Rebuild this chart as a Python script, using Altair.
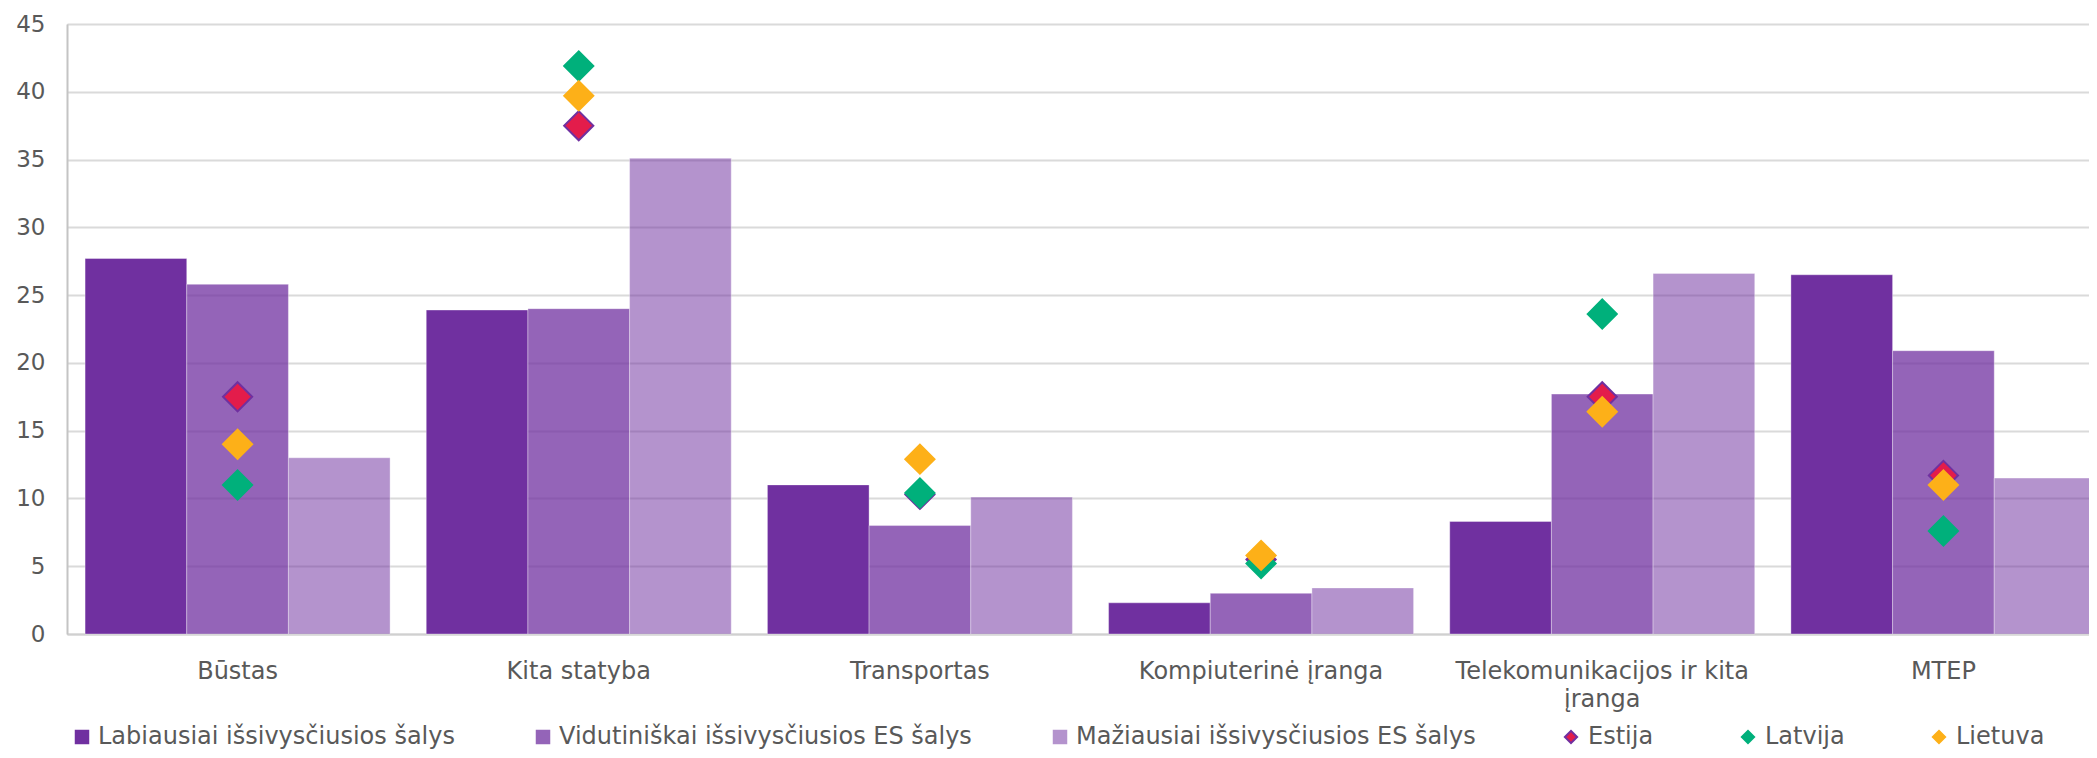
import altair as alt
import pandas as pd

# ---------------- data ----------------
categories = [
    "Būstas",
    "Kita statyba",
    "Transportas",
    "Kompiuterinė įranga",
    "Telekomunikacijos ir kita įranga",
    "MTEP",
]
bar_series = [
    "Labiausiai išsivysčiusios šalys",
    "Vidutiniškai išsivysčiusios ES šalys",
    "Mažiausiai išsivysčiusios ES šalys",
]
most_developed = [27.7, 23.9, 11.0, 2.3, 8.3, 26.5]
medium_developed = [25.8, 24.0, 8.0, 3.0, 17.7, 20.9]
least_developed = [13.0, 35.1, 10.1, 3.4, 26.6, 11.5]

country_series = ["Estija", "Latvija", "Lietuva"]
estija = [17.5, 37.5, 10.3, 5.5, 17.5, 11.7]
latvija = [11.0, 41.9, 10.4, 5.2, 23.6, 7.6]
lietuva = [14.0, 39.7, 12.9, 5.8, 16.4, 11.0]

y_ticks = [0, 5, 10, 15, 20, 25, 30, 35, 40, 45]

# ---------------- styles ----------------
bar_colors = ["#7030A0", "rgba(112,48,160,0.75)", "rgba(112,48,160,0.52)"]
country_fill = ["#E31C4B", "#00B07B", "#FDB018"]
country_stroke = ["#7030A0", "#00B07B", "#FDB018"]
text_color = "#595959"
font = "DejaVu Sans"

bars_df = pd.DataFrame({
    "category": categories * 3,
    "series": [s for s in bar_series for _ in categories],
    "value": most_developed + medium_developed + least_developed,
})
pts_df = pd.DataFrame({
    "category": categories * 3,
    "series": [s for s in country_series for _ in categories],
    "value": estija + latvija + lietuva,
})

# the band range runs a little past the visible plot edge, as in the reference
x_scale = alt.Scale(domain=categories, range=[0, 2047], paddingInner=0.106, paddingOuter=0.053)
y_scale = alt.Scale(domain=[0, 45], nice=False, zero=True)

wrap_expr = (
    "length(datum.label) > 24 ? "
    "[slice(datum.label, 0, lastindexof(datum.label, ' ')), "
    "slice(datum.label, lastindexof(datum.label, ' ') + 1)] : datum.label"
)

x_axis = alt.Axis(
    title=None, labelAngle=0, labelFontSize=24, labelColor=text_color, labelFont=font,
    labelPadding=25, ticks=False, domainColor="#D0D0D0", domainWidth=2, grid=False,
    labelLimit=500, labelLineHeight=28, labelOverlap=False, labelExpr=wrap_expr,
)
y_axis = alt.Axis(
    title=None, values=y_ticks, labelFontSize=23, labelColor=text_color, labelFont=font,
    labelPadding=22, ticks=False, domainColor="#C4C4C4", domainWidth=2,
    grid=True, gridColor="#DADADA", gridWidth=2,
)

bar_legend = alt.Legend(
    title=None, orient="none", legendX=3, legendY=701, direction="horizontal",
    columns=3, columnPadding=76, symbolType="square", symbolSize=210,
    symbolStrokeWidth=0, labelFontSize=24, labelColor=text_color, labelFont=font,
    labelOffset=4, labelLimit=700, padding=0,
)
pt_legend = alt.Legend(
    title=None, orient="none", legendX=1492, legendY=701, direction="horizontal",
    columns=3, columnPadding=82, symbolType="diamond", symbolSize=150,
    symbolStrokeWidth=2, labelFontSize=24, labelColor=text_color, labelFont=font,
    labelOffset=5, labelLimit=700, padding=0,
)

bars = alt.Chart(bars_df).mark_bar(
    stroke="white", strokeOpacity=0.35, strokeWidth=1
).encode(
    x=alt.X("category:N", sort=categories, scale=x_scale, axis=x_axis),
    xOffset=alt.XOffset("series:N", sort=bar_series,
                        scale=alt.Scale(domain=bar_series, paddingInner=0, paddingOuter=0)),
    y=alt.Y("value:Q", scale=y_scale, axis=y_axis),
    fill=alt.Fill("series:N", sort=bar_series,
                  scale=alt.Scale(domain=bar_series, range=bar_colors), legend=bar_legend),
)

points = alt.Chart(pts_df).mark_point(
    shape="diamond", filled=True, size=850, strokeWidth=2, opacity=1
).encode(
    x=alt.X("category:N", sort=categories, scale=x_scale),
    y=alt.Y("value:Q", scale=y_scale),
    fill=alt.Fill("series:N", sort=country_series,
                  scale=alt.Scale(domain=country_series, range=country_fill), legend=pt_legend),
    stroke=alt.Stroke("series:N", sort=country_series,
                      scale=alt.Scale(domain=country_series, range=country_stroke), legend=pt_legend),
)

chart = alt.layer(bars, points).resolve_scale(
    fill="independent", stroke="independent"
).properties(
    width=2022,
    height=610,
    autosize=alt.AutoSizeParams(type="none"),
    padding={"left": 59, "top": 16, "right": 0, "bottom": 116},
    background="white",
).configure_view(stroke=None).configure(font=font)

chart.save("out.html", embed_options={"renderer": "svg", "actions": False})
